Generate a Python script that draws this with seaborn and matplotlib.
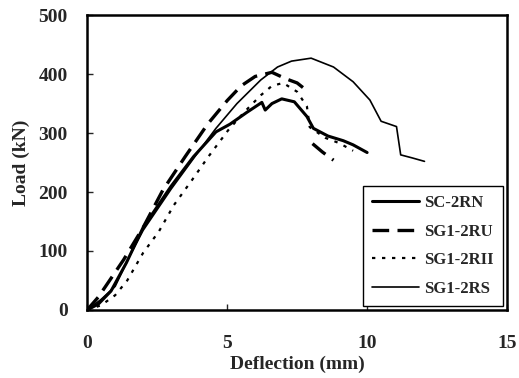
import numpy as np
import pandas as pd
import seaborn as sns
import matplotlib.pyplot as plt

# load-deflection curves (deflection mm, load kN)
sc_2rn_x = [0, 0.4, 0.85, 1.4, 2.0, 3.0, 3.8, 4.6, 5.1, 5.7, 6.24, 6.36, 6.6, 6.95, 7.4, 7.85, 8.08, 8.6, 9.15, 9.5, 10.0]
sc_2rn_y = [0, 10, 32, 80, 140, 210, 260, 302, 315, 335, 352, 339, 350, 358, 353, 328, 308, 295, 287, 280, 267]

# SG1-2RU has a break after the peak, so two pieces
sg1_2ru_x = [0, 0.4, 0.8, 1.3, 2.0, 2.7, 3.5, 4.3, 5.0, 5.5, 6.0, 6.6, 7.1, 7.5, 7.9]
sg1_2ru_y = [0, 22, 50, 85, 140, 203, 260, 315, 355, 380, 396, 403, 392, 385, 370]
sg1_2ru_tail_x = [8.05, 8.4, 8.8]
sg1_2ru_tail_y = [282, 268, 254]

sg1_2rii_x = [0, 0.5, 1.0, 1.43, 2.0, 2.56, 3.1, 3.74, 4.33, 5.04, 5.6, 6.2, 6.6, 7.0, 7.5, 7.85, 7.95, 8.5, 9.0, 9.5]
sg1_2rii_y = [0, 8, 25, 50, 97, 133, 178, 220, 260, 305, 335, 364, 380, 385, 370, 345, 310, 292, 283, 270]

sg1_2rs_x = [0, 0.5, 1.0, 1.5, 2.0, 3.0, 4.0, 4.6, 5.35, 6.2, 6.8, 7.3, 8.0, 8.8, 9.5, 10.1, 10.5, 11.05, 11.2, 11.6, 12.05]
sg1_2rs_y = [0, 18, 40, 90, 135, 205, 270, 308, 350, 390, 412, 422, 427, 412, 387, 356, 320, 311, 263, 258, 252]

names = ['SC-2RN', 'SG1-2RU', 'SG1-2RII', 'SG1-2RS']

pieces = [('SC-2RN', 0, sc_2rn_x, sc_2rn_y),
          ('SG1-2RU', 0, sg1_2ru_x, sg1_2ru_y),
          ('SG1-2RU', 1, sg1_2ru_tail_x, sg1_2ru_tail_y),
          ('SG1-2RII', 0, sg1_2rii_x, sg1_2rii_y),
          ('SG1-2RS', 0, sg1_2rs_x, sg1_2rs_y)]
frames = []
for name, seg, xs, ys in pieces:
    frames.append(pd.DataFrame({'x': xs, 'y': ys, 'spec': name, 'seg': seg}))
df = pd.concat(frames, ignore_index=True)

sns.set_style("ticks")
plt.rcParams['font.family'] = ['Liberation Serif', 'DejaVu Serif']
plt.rcParams['font.weight'] = 'bold'

fig = plt.figure(figsize=(5.19, 3.78), dpi=100)
ax = fig.add_axes([0.168, 0.18, 0.809, 0.78])

sns.lineplot(data=df, x='x', y='y', hue='spec', style='spec', size='spec', units='seg',
             sort=False, hue_order=names, style_order=names, size_order=names,
             palette={n: 'black' for n in names},
             dashes={'SC-2RN': '', 'SG1-2RU': (5, 2.5), 'SG1-2RII': (1.5, 3), 'SG1-2RS': ''},
             sizes={'SC-2RN': 2.2, 'SG1-2RU': 2.4, 'SG1-2RII': 1.6, 'SG1-2RS': 1.2},
             estimator=None, ax=ax)

ax.set_xlim(0, 15)
ax.set_ylim(0, 500)
ax.set_xticks([0, 5, 10, 15])
ax.set_yticks([0, 100, 200, 300, 400, 500])
ax.tick_params(direction='in', length=4, width=1, labelsize=14)
ax.tick_params(axis='x', pad=18)
ax.tick_params(axis='y', pad=14)
for lab in ax.get_xticklabels() + ax.get_yticklabels():
    lab.set_fontweight('bold')
for sp in ax.spines.values():
    sp.set_linewidth(1.8)
    sp.set_color('black')

ax.set_xlabel('Deflection (mm)', fontsize=14, fontweight='bold', labelpad=3)
ax.set_ylabel('Load (kN)', fontsize=14, fontweight='bold', labelpad=6)

leg = ax.legend(loc='lower right', fancybox=False, edgecolor='black', framealpha=1,
                borderaxespad=0.25, handlelength=2.8, handletextpad=0.3, labelspacing=0.75,
                borderpad=0.55, prop={'weight': 'bold', 'size': 12})
leg.get_frame().set_linewidth(1.0)

fig.savefig('out.png', dpi=100)
